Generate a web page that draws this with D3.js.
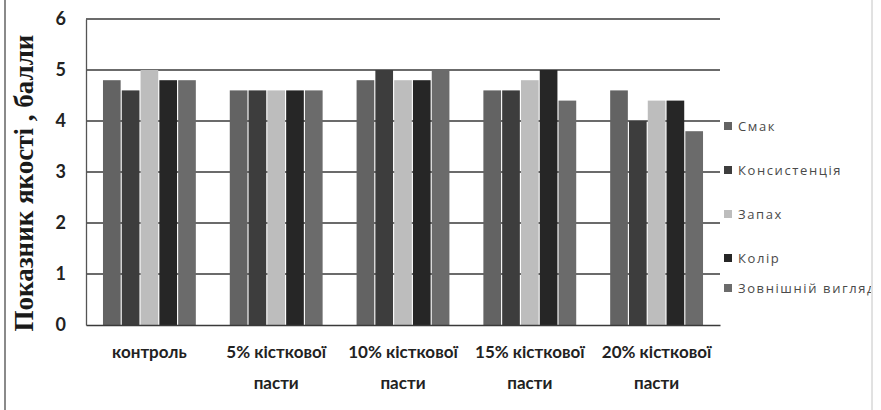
<!DOCTYPE html>
<html>
<head>
<meta charset="utf-8">
<script src="https://cdn.jsdelivr.net/npm/d3@7"></script>
<style>
  html, body { margin: 0; padding: 0; background: #fff; }
  svg { display: block; }
</style>
</head>
<body>
<svg id="chart" width="881" height="410"></svg>
<script>
// Sensory quality scores of the product with bone paste added
const categories = [["контроль"], ["5% кісткової", "пасти"], ["10% кісткової", "пасти"], ["15% кісткової", "пасти"], ["20% кісткової", "пасти"]];
const seriesNames = ["Смак", "Консистенція", "Запах", "Колір", "Зовнішній вигляд"];
const smak = [4.8, 4.6, 4.8, 4.6, 4.6];
const konsystentsiia = [4.6, 4.6, 5.0, 4.6, 4.0];
const zapakh = [5.0, 4.6, 4.8, 4.8, 4.4];
const kolir = [4.8, 4.6, 4.8, 5.0, 4.4];
const vyhliad = [4.8, 4.6, 5.0, 4.4, 3.8];
const seriesValues = [smak, konsystentsiia, zapakh, kolir, vyhliad];
const yTicks = [0, 1, 2, 3, 4, 5, 6];
const seriesColors = ["#636363", "#3d3d3d", "#bdbdbd", "#262626", "#6b6b6b"];

const svg = d3.select("#chart");
const plot = { left: 86, right: 720, top: 19, bottom: 325 };

const catKeys = categories.map(c => c.join(" "));
const x = d3.scaleBand().domain(catKeys).range([plot.left, plot.right])
  .paddingInner(0.25).paddingOuter(0.125);
const xs = d3.scaleBand().domain(seriesNames).range([0, x.bandwidth()]).padding(0.06);
const y = d3.scaleLinear().domain([0, 6]).range([plot.bottom, plot.top]);

// outer frame edges
svg.append("line").attr("x1", 5).attr("x2", 5).attr("y1", 0).attr("y2", 410)
  .attr("stroke", "#8a8a8a").attr("stroke-width", 2);
svg.append("line").attr("x1", 872).attr("x2", 872).attr("y1", 0).attr("y2", 410)
  .attr("stroke", "#c4c4c4").attr("stroke-width", 1);

// horizontal gridlines
svg.append("g").selectAll("line").data(yTicks.filter(t => t > 0)).join("line")
  .attr("x1", plot.left).attr("x2", plot.right)
  .attr("y1", d => y(d)).attr("y2", d => y(d))
  .attr("stroke", "#3a3a3a").attr("stroke-width", 1.3);

// bars
const groups = svg.append("g").selectAll("g").data(catKeys).join("g")
  .attr("transform", d => `translate(${x(d)},0)`);
groups.selectAll("rect")
  .data((d, i) => seriesNames.map((s, j) => ({ s, v: seriesValues[j][i], j })))
  .join("rect")
  .attr("x", d => xs(d.s))
  .attr("width", xs.bandwidth())
  .attr("y", d => y(d.v))
  .attr("height", d => y(0) - y(d.v))
  .attr("fill", d => seriesColors[d.j]);

// y axis
const yAxis = d3.axisLeft(y).tickValues(yTicks).tickFormat(d3.format("d")).tickSize(0).tickPadding(20);
const ya = svg.append("g").attr("transform", `translate(${plot.left},0)`).call(yAxis);
ya.select(".domain").attr("stroke", "#555").attr("stroke-width", 1.3);
ya.selectAll("text").attr("font-family", "Lato, 'Open Sans', sans-serif")
  .attr("font-weight", "bold").attr("font-size", 18).attr("fill", "#222");

// x axis baseline and labels
const xAxis = d3.axisBottom(x).tickSize(0).tickFormat("");
const xa = svg.append("g").attr("transform", `translate(0,${plot.bottom})`).call(xAxis);
xa.select(".domain").attr("stroke", "#3a3a3a").attr("stroke-width", 1.3);
svg.append("g").selectAll("text").data(categories).join("text")
  .attr("x", (d, i) => x(catKeys[i]) + x.bandwidth() / 2)
  .attr("y", 358)
  .attr("text-anchor", "middle")
  .attr("font-family", "Lato, 'Open Sans', sans-serif")
  .attr("font-weight", "bold").attr("font-size", 17).attr("fill", "#222")
  .selectAll("tspan").data(d => d).join("tspan")
  .attr("x", function () { return d3.select(this.parentNode).attr("x"); })
  .attr("dy", (d, i) => i === 0 ? 0 : 31)
  .text(d => d);

// y axis title
svg.append("text")
  .attr("transform", "translate(33,183) rotate(-90)")
  .attr("text-anchor", "middle")
  .attr("font-family", "'Liberation Serif', 'DejaVu Serif', serif")
  .attr("font-weight", "bold").attr("font-size", 27).attr("fill", "#1a1a1a")
  .text("Показник якості , балли");

// legend, clipped by the frame edge
svg.append("clipPath").attr("id", "legendClip")
  .append("rect").attr("x", 700).attr("y", 0).attr("width", 171).attr("height", 410);
const legendY = [126, 170, 214, 258, 288];
const legend = svg.append("g").attr("clip-path", "url(#legendClip)")
  .selectAll("g").data(seriesNames).join("g")
  .attr("transform", (d, i) => `translate(724,${legendY[i]})`);
legend.append("rect").attr("x", 0).attr("y", -4).attr("width", 8).attr("height", 8)
  .attr("fill", (d, i) => seriesColors[i]);
legend.append("text").attr("x", 14).attr("y", 0).attr("dy", "0.35em")
  .attr("font-family", "'Open Sans', sans-serif").attr("font-size", 13)
  .attr("letter-spacing", 1.6)
  .attr("fill", "#4a4a4a").text(d => d);
</script>
</body>
</html>
